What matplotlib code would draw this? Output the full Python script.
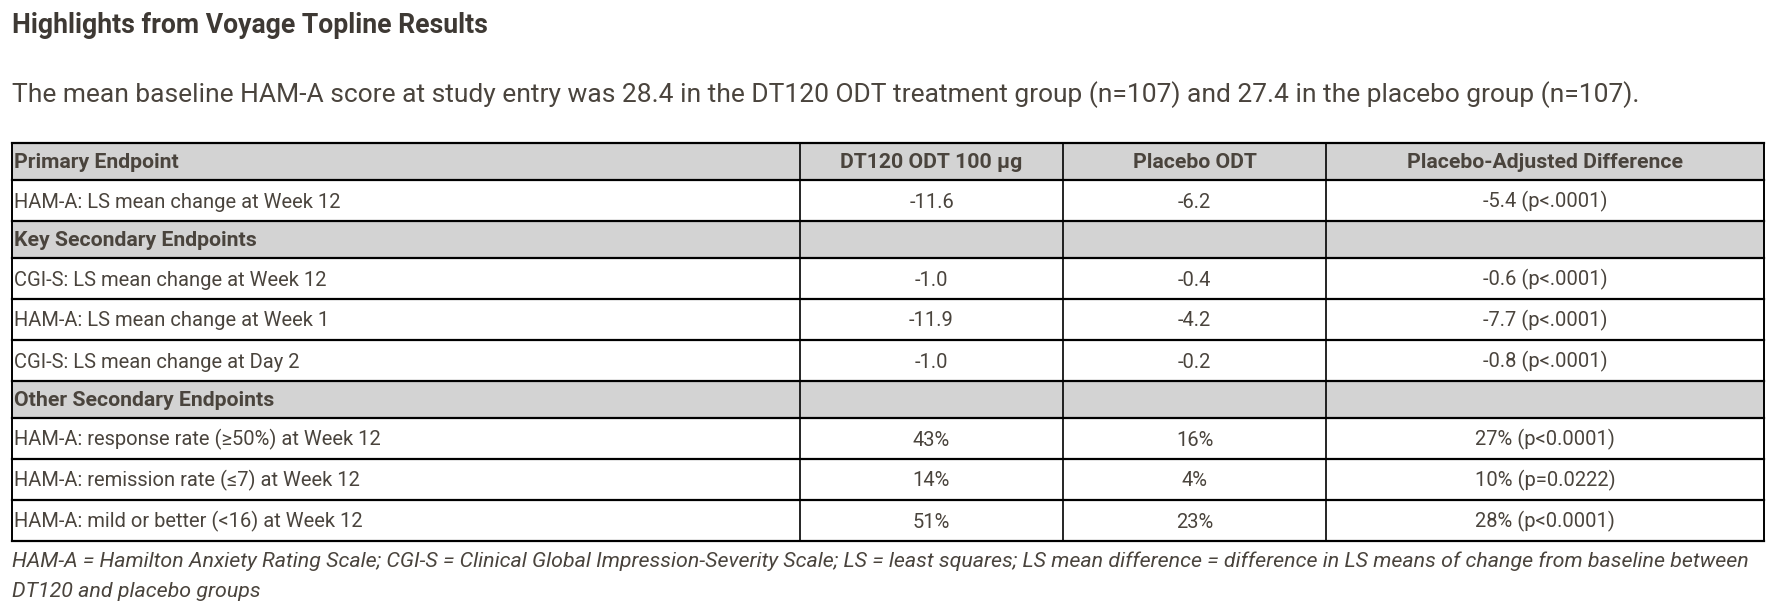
import matplotlib.pyplot as plt
from matplotlib.patches import Rectangle

# table content
title = "Highlights from Voyage Topline Results"
subtitle = ("The mean baseline HAM-A score at study entry was 28.4 in the DT120 ODT "
            "treatment group (n=107) and 27.4 in the placebo group (n=107).")
headers = ["Primary Endpoint", "DT120 ODT 100 µg", "Placebo ODT", "Placebo-Adjusted Difference"]

endpoint_labels = [
    "HAM-A: LS mean change at Week 12",
    "Key Secondary Endpoints",
    "CGI-S: LS mean change at Week 12",
    "HAM-A: LS mean change at Week 1",
    "CGI-S: LS mean change at Day 2",
    "Other Secondary Endpoints",
    "HAM-A: response rate (≥50%) at Week 12",
    "HAM-A: remission rate (≤7) at Week 12",
    "HAM-A: mild or better (<16) at Week 12",
]
dt120_vals = ["-11.6", "", "-1.0", "-11.9", "-1.0", "", "43%", "14%", "51%"]
placebo_vals = ["-6.2", "", "-0.4", "-4.2", "-0.2", "", "16%", "4%", "23%"]
diff_vals = ["-5.4 (p<.0001)", "", "-0.6 (p<.0001)", "-7.7 (p<.0001)", "-0.8 (p<.0001)", "",
             "27% (p<0.0001)", "10% (p=0.0222)", "28% (p<0.0001)"]
section_rows = ["Key Secondary Endpoints", "Other Secondary Endpoints"]

footnote = ["HAM-A = Hamilton Anxiety Rating Scale; CGI-S = Clinical Global Impression-Severity Scale; "
            "LS = least squares; LS mean difference = difference in LS means of change from baseline between",
            "DT120 and placebo groups"]

# layout (pixels)
W, H = 1773, 606
col_edges = [12, 800, 1063, 1326, 1764]
table_top = 143
head_h, row_h = 37, 41
text_col = "#4a443d"
gray = "#d3d3d3"
fam = ["Roboto", "DejaVu Sans"]

fig = plt.figure(figsize=(W / 100, H / 100), dpi=100)
ax = fig.add_axes([0, 0, 1, 1])
ax.set_xlim(0, W)
ax.set_ylim(H, 0)
ax.axis("off")

ax.text(12, 33, title, fontsize=19.2, fontweight="bold", color="#3e3934", family=fam, va="baseline")
ax.text(12, 102, subtitle, fontsize=19, color=text_col, family=fam, va="baseline")

# rows: header + data
rows = [headers] + [list(r) for r in zip(endpoint_labels, dt120_vals, placebo_vals, diff_vals)]
y = table_top
bounds = [y]
for i, r in enumerate(rows):
    shaded = i == 0 or r[0] in section_rows
    h = head_h if shaded else row_h
    if shaded:
        ax.add_patch(Rectangle((col_edges[0], y), col_edges[-1] - col_edges[0], h,
                               facecolor=gray, edgecolor="none", zorder=1))
    base = y + h / 2 + 7
    weight = "bold" if shaded else "normal"
    size = 15.3 if shaded else 14.5
    ax.text(col_edges[0] + 2, base, r[0], fontsize=size, fontweight=weight,
            color=text_col, family=fam, va="baseline", zorder=3)
    for j in range(1, 4):
        cx = (col_edges[j] + col_edges[j + 1]) / 2
        ax.text(cx, base, r[j], fontsize=size, fontweight=weight, color=text_col,
                family=fam, ha="center", va="baseline", zorder=3)
    y += h
    bounds.append(y)

for b in bounds:
    ax.plot([col_edges[0], col_edges[-1]], [b, b], color="black", lw=1.6,
            solid_capstyle="projecting", zorder=2)
for x in col_edges:
    ax.plot([x, x], [bounds[0], bounds[-1]], color="black", lw=1.4 if x in (12, 1764) else 1.2,
            solid_capstyle="projecting", zorder=2)

ax.text(12, 567, footnote[0], fontsize=15.4, style="italic", color=text_col, family=fam, va="baseline")
ax.text(12, 597, footnote[1], fontsize=15.4, style="italic", color=text_col, family=fam, va="baseline")

fig.savefig("out.png", dpi=100)
